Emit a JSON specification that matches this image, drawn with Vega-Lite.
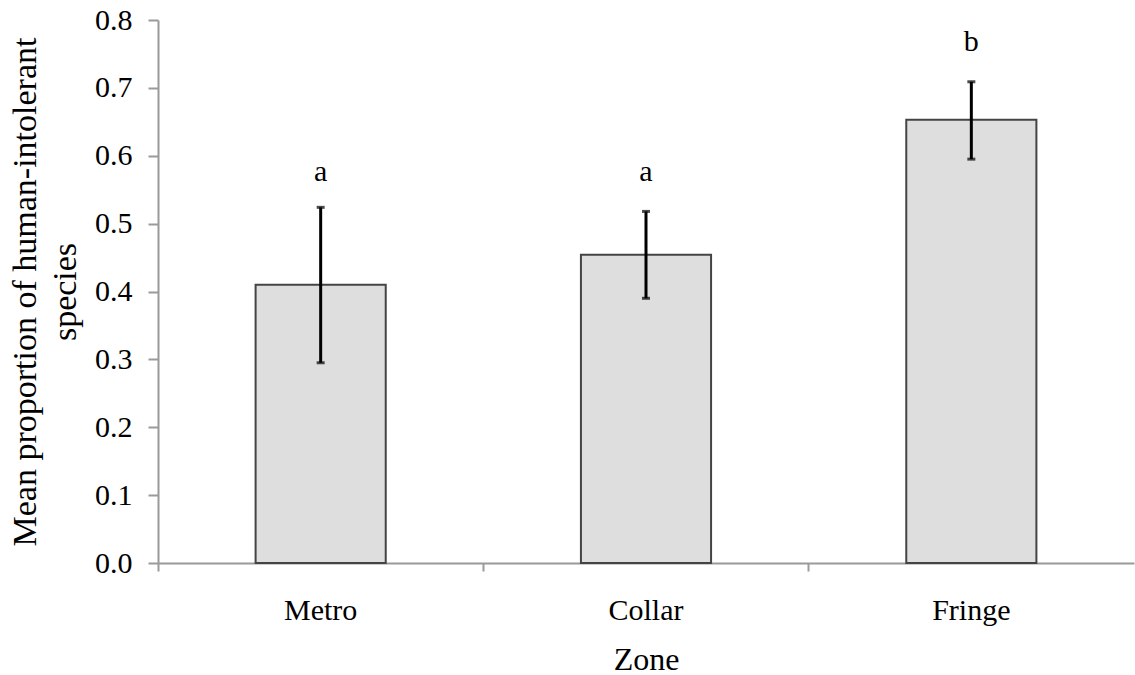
{
  "$schema": "https://vega.github.io/schema/vega-lite/v6.json",
  "autosize": {"type": "none"},
  "padding": {"left": 158, "top": 20, "right": 1, "bottom": 112},
  "width": 976,
  "height": 543,
  "background": "white",
  "config": {
    "view": {"stroke": null},
    "font": "Liberation Serif",
    "axis": {"grid": false, "labelFont": "Liberation Serif", "titleFont": "Liberation Serif", "labelColor": "black", "titleColor": "black", "titleFontWeight": "normal", "domainColor": "#9a9a9a", "tickColor": "#9a9a9a", "domainWidth": 2, "tickWidth": 2}
  },
  "data": {
    "values": [
      {"zone": "Metro", "mean": 0.41, "lo": 0.295, "hi": 0.524, "label": "a", "labelY": 0.576},
      {"zone": "Collar", "mean": 0.454, "lo": 0.39, "hi": 0.518, "label": "a", "labelY": 0.576},
      {"zone": "Fringe", "mean": 0.653, "lo": 0.595, "hi": 0.709, "label": "b", "labelY": 0.768}
    ]
  },
  "encoding": {
    "x": {
      "field": "zone", "type": "nominal", "sort": ["Metro", "Collar", "Fringe"],
      "scale": {"paddingInner": 0, "paddingOuter": 0},
      "axis": {"title": "Zone", "labelAngle": 0, "labelFontSize": 30, "titleFontSize": 32, "labelPadding": 24, "titlePadding": 19, "tickSize": 8, "bandPosition": 0}
    }
  },
  "layer": [
    {
      "mark": {"type": "bar", "width": {"band": 0.4}, "fill": "#dedede", "stroke": "#444444", "strokeWidth": 2},
      "encoding": {
        "y": {
          "field": "mean", "type": "quantitative",
          "scale": {"domain": [0, 0.8], "nice": false},
          "axis": {"title": ["Mean proportion of human-intolerant", "species"], "values": [0, 0.1, 0.2, 0.3, 0.4, 0.5, 0.6, 0.7, 0.8], "format": ".1f", "labelFontSize": 30, "titleFontSize": 34, "titleLineHeight": 40, "labelPadding": 16, "tickSize": 10, "titlePadding": 12}
        }
      }
    },
    {
      "mark": {"type": "rule", "color": "black", "strokeWidth": 3},
      "encoding": {"y": {"field": "lo", "type": "quantitative"}, "y2": {"field": "hi"}}
    },
    {
      "mark": {"type": "tick", "color": "black", "size": 8, "thickness": 3, "orient": "horizontal"},
      "encoding": {"y": {"field": "lo", "type": "quantitative"}}
    },
    {
      "mark": {"type": "tick", "color": "black", "size": 8, "thickness": 3, "orient": "horizontal"},
      "encoding": {"y": {"field": "hi", "type": "quantitative"}}
    },
    {
      "mark": {"type": "text", "fontSize": 30, "font": "Liberation Serif", "color": "black"},
      "encoding": {"y": {"field": "labelY", "type": "quantitative"}, "text": {"field": "label"}}
    }
  ]
}
